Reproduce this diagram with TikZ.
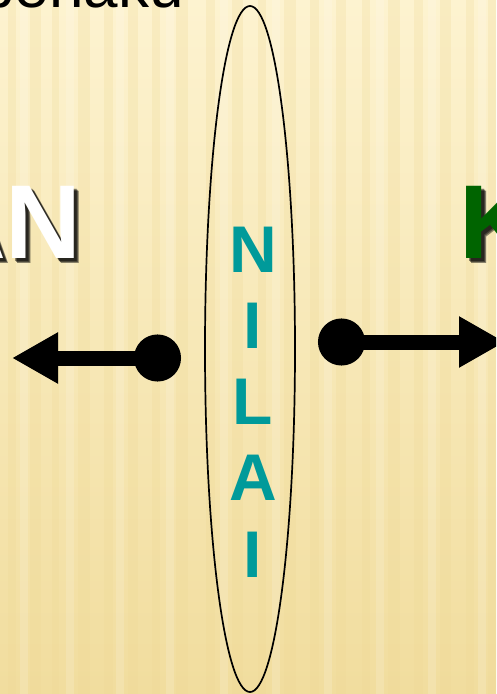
\documentclass[tikz,border=0pt]{standalone}
\usepackage{fontspec}
\setmainfont{Liberation Sans}
\usetikzlibrary{arrows.meta}
\definecolor{nlPaper}{HTML}{FDF3D0}
\definecolor{nlGold}{HTML}{EFD995}
\definecolor{nlTeal}{HTML}{009A9A}
\definecolor{nlGreen}{HTML}{006400}
\tikzset{
  nl stripe/.style={fill=nlGold, opacity=0.25},
  nl light/.style={fill=white, opacity=0.15},
  nl ring/.style={draw=black, line width=1.7pt},
  nl letter/.style={font=\fontsize{66}{66}\selectfont\bfseries, text=nlTeal, anchor=base, inner sep=0pt},
  nl big/.style={font=\fontsize{105}{105}\selectfont\bfseries, anchor=base, inner sep=0pt},
  nl shadow/.style={nl big, text=black, opacity=0.45},
  nl arrow/.style={line width=15pt, {Circle[length=47pt]}-{Triangle[length=46pt,width=48pt]}},
}
\begin{document}
\begin{tikzpicture}[x=1pt, y=-1pt]
  \useasboundingbox (0,0) rectangle (496,694);
  \clip (0,0) rectangle (496,694);
  % Paper background with soft vertical stripes
  \shade[top color=nlPaper, bottom color=nlGold!85!nlPaper] (0,0) rectangle (496,694);
  \foreach \x/\w in {8/8, 30/11, 52/7, 78/12, 104/9, 128/10, 152/8, 176/12, 206/9, 232/11, 258/8, 284/12, 310/9, 336/10, 362/8, 388/12, 414/9, 440/11, 466/8, 488/8}
    \fill[nl stripe] (\x,0) rectangle ({\x+\w},694);
  \foreach \x in {20, 66, 116, 166, 220, 272, 324, 376, 428, 478}
    \fill[nl light] (\x,0) rectangle ({\x+8},694);
  % Cut-off word at the top
  \node[font=\fontsize{62}{62}\selectfont, anchor=base west, inner sep=0pt] (topword) at (-20,7) {benaku};
  % Side words with drop shadow
  \foreach \d in {3,4,5} {
    \node[nl shadow, anchor=base east] at ({82+\d},{258+\d}) {AN};
    \node[nl shadow, anchor=base west] at ({459+\d},{258+\d}) {K};
  }
  \node[nl big, text=white, anchor=base east] (leftword) at (82,258) {AN};
  \node[nl big, text=nlGreen, anchor=base west] (rightword) at (459,258) {K};
  % Ellipse with the vertical word
  \draw[nl ring] (250,349) ellipse [x radius=45, y radius=343];
  \foreach \c [count=\i from 0] in {N,I,L,A,I}
    \node[nl letter] (letter\i) at (253,{272+76.25*\i}) {\c};
  % Arrows pointing away from the ellipse
  \coordinate (ldot) at (181,358);
  \coordinate (ltip) at (12,358);
  \coordinate (rdot) at (318,342);
  \coordinate (rtip) at (505,342);
  \draw[nl arrow] (ldot) -- (ltip);
  \draw[nl arrow] (rdot) -- (rtip);
\end{tikzpicture}
\end{document}
